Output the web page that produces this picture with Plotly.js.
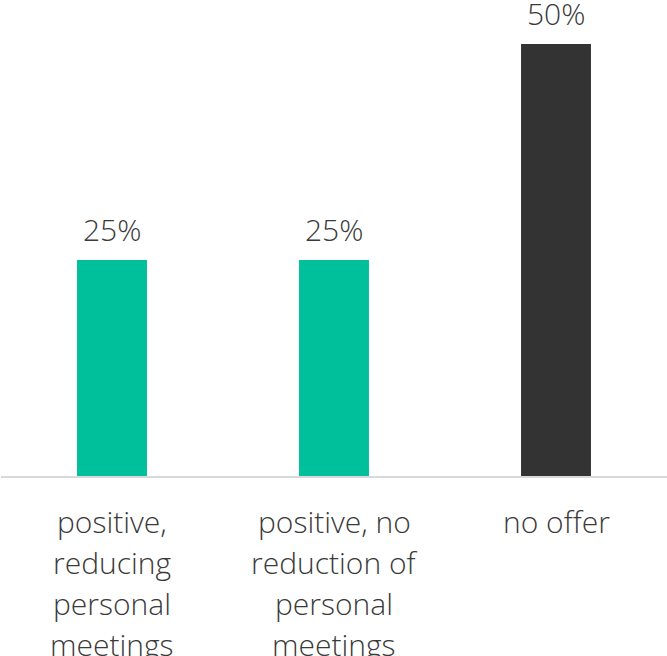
<!DOCTYPE html>
<html>
<head>
<meta charset="utf-8">
<script src="https://cdn.plot.ly/plotly-3.0.1.min.js"></script>
<style>
  html, body { margin: 0; padding: 0; background: #fff; }
  #chart { width: 667px; height: 656px; }
</style>
</head>
<body>
<div id="chart"></div>
<script>
// Share of responses per category (percent)
const categories = ["positive, reducing personal meetings", "positive, no reduction of personal meetings", "no offer"];
const labelLines = [
  ["positive,", "reducing", "personal", "meetings"],
  ["positive, no", "reduction of", "personal", "meetings"],
  ["no offer"]
];
const values = [25, 25, 50];
const barColors = ["#00BF9B", "#00BF9B", "#333333"];

const FONT = "'Open Sans', Lato, sans-serif";
const TEXT_COLOR = "#3a3a3a";
const FONT_SIZE = 30;
const LINE_STEP = 41;

const trace = {
  type: "bar",
  x: categories,
  y: values,
  marker: { color: barColors },
  hoverinfo: "skip"
};

// value labels above the bars
const annotations = categories.map((c, i) => ({
  x: c,
  y: values[i],
  xref: "x",
  yref: "y",
  text: values[i] + "%",
  showarrow: false,
  yanchor: "bottom",
  yshift: 9,
  borderpad: 0,
  font: { family: FONT, size: FONT_SIZE, weight: 300, color: TEXT_COLOR }
}));

// category labels below the axis, one annotation per line
categories.forEach((c, i) => {
  labelLines[i].forEach((line, j) => {
    annotations.push({
      x: c,
      y: 0,
      xref: "x",
      yref: "y",
      text: line,
      showarrow: false,
      yanchor: "middle",
      yshift: -45 - j * LINE_STEP,
      borderpad: 0,
      font: { family: FONT, size: FONT_SIZE, weight: 300, color: TEXT_COLOR }
    });
  });
});

const layout = {
  width: 667,
  height: 656,
  margin: { l: 1, r: 0, t: 44, b: 180 },
  paper_bgcolor: "#fff",
  plot_bgcolor: "#fff",
  bargap: 0.685,
  showlegend: false,
  xaxis: {
    type: "category",
    showline: true,
    linecolor: "#d9d9d9",
    linewidth: 2,
    ticks: "",
    showticklabels: false,
    fixedrange: true
  },
  yaxis: {
    range: [0, 50],
    visible: false,
    showgrid: false,
    zeroline: false,
    fixedrange: true
  },
  annotations: annotations
};

Plotly.newPlot("chart", [trace], layout, { displayModeBar: false, staticPlot: true });
</script>
</body>
</html>
